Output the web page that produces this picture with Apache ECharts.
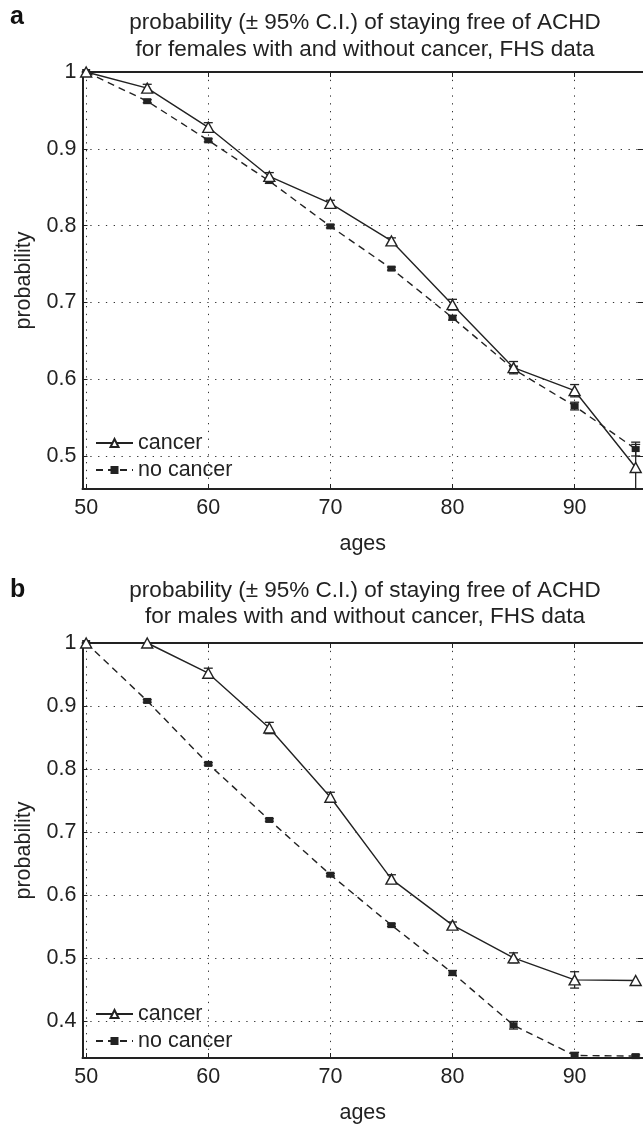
<!DOCTYPE html>
<html>
<head>
<meta charset="utf-8">
<script src="https://cdn.jsdelivr.net/npm/echarts@6/dist/echarts.min.js"></script>
<style>
html,body{margin:0;padding:0;background:#fff;}
#chart{width:643px;height:1125px;}
</style>
</head>
<body>
<div id="chart"></div>
<script>
const ages = [50, 55, 60, 65, 70, 75, 80, 85, 90, 95];
const xTicks = [50, 60, 70, 80, 90];
const yTicksA = [0.5, 0.6, 0.7, 0.8, 0.9, 1];
const yTicksB = [0.4, 0.5, 0.6, 0.7, 0.8, 0.9, 1];

// Panel a: females
const femaleCancer      = [1.0, 0.979, 0.928, 0.864, 0.829, 0.780, 0.697, 0.615, 0.585, 0.485];
const femaleCancerErr   = [0, 0.005, 0.006, 0.005, 0.004, 0.004, 0.007, 0.008, 0.008, 0.030];
const femaleNoCancer    = [1.0, 0.962, 0.911, 0.858, 0.799, 0.744, 0.680, 0.613, 0.565, 0.509];
const femaleNoCancerErr = [0, 0.002, 0.002, 0.003, 0.002, 0.002, 0.003, 0.004, 0.005, 0.009];

// Panel b: males
const maleCancer      = [1.0, 1.0, 0.952, 0.865, 0.755, 0.625, 0.552, 0.500, 0.465, 0.464];
const maleCancerErr   = [0, 0, 0.008, 0.009, 0.008, 0.007, 0.005, 0.008, 0.013, 0];
const maleNoCancer    = [1.0, 0.908, 0.808, 0.719, 0.632, 0.552, 0.476, 0.393, 0.345, 0.344];
const maleNoCancerErr = [0, 0.002, 0.002, 0.002, 0.002, 0.002, 0.004, 0.006, 0.005, 0.002];

const titleA = 'probability (\u00b1 95% C.I.) of staying free of ACHD\nfor females with and without cancer, FHS data';
const titleB = 'probability (\u00b1 95% C.I.) of staying free of ACHD\nfor males with and without cancer, FHS data';

const FONT = '"Liberation Sans", Arial, Helvetica, sans-serif';
const INK = '#222';
const FS = 21.5;

const chart = echarts.init(document.getElementById('chart'), null, {renderer: 'canvas'});

function pairs(xs, ys) { return xs.map((x, i) => [x, ys[i]]); }
function errData(xs, ys, es) {
  const out = [];
  xs.forEach((x, i) => { if (es[i] > 0) out.push([x, ys[i] - es[i], ys[i] + es[i]]); });
  return out;
}
function errRender(params, api) {
  const x = api.value(0), lo = api.value(1), hi = api.value(2);
  const cs = params.coordSys;
  const pTop = api.coord([x, hi]);
  const pBot = api.coord([x, lo]);
  const yMin = cs.y, yMax = cs.y + cs.height;
  const clamp = v => Math.max(yMin, Math.min(yMax, v));
  const t = clamp(pTop[1]), b = clamp(pBot[1]);
  const cx = pTop[0], hw = 4.5;
  const st = {stroke: INK, lineWidth: 1.3};
  const children = [{type: 'line', shape: {x1: cx, y1: t, x2: cx, y2: b}, style: st}];
  if (pTop[1] >= yMin) children.push({type: 'line', shape: {x1: cx - hw, y1: pTop[1], x2: cx + hw, y2: pTop[1]}, style: st});
  if (pBot[1] <= yMax) children.push({type: 'line', shape: {x1: cx - hw, y1: pBot[1], x2: cx + hw, y2: pBot[1]}, style: st});
  return {type: 'group', children};
}

const grids = [
  {left: 82.5, top: 72, width: 562, height: 417},
  {left: 82.5, top: 643, width: 562, height: 415}
];
const yRanges = [[0.457, 1], [0.341, 1]];
const yTickSets = [yTicksA, yTicksB];

const xAxes = [], yAxes = [];
const dotted = {color: '#333', width: 1, type: [1.3, 6.5]};
grids.forEach((g, gi) => {
  xAxes.push({
    type: 'value', gridIndex: gi, position: 'bottom', min: 49.7, max: 95.6,
    name: 'ages', nameLocation: 'middle', nameGap: 44,
    nameTextStyle: {fontFamily: FONT, fontSize: FS, color: INK},
    axisLine: {show: true, lineStyle: {color: INK, width: 2}},
    axisTick: {show: true, inside: true, length: 5, customValues: xTicks, lineStyle: {color: INK}},
    axisLabel: {customValues: xTicks, margin: 8, fontFamily: FONT, fontSize: FS, color: INK},
    splitLine: {show: true, lineStyle: dotted}
  });
  xAxes.push({
    type: 'value', gridIndex: gi, position: 'top', min: 49.7, max: 95.6,
    axisLine: {show: true, lineStyle: {color: INK, width: 2}},
    axisTick: {show: true, inside: true, length: 5, customValues: xTicks, lineStyle: {color: INK}},
    axisLabel: {show: false},
    splitLine: {show: false}
  });
  const yt = yTickSets[gi];
  yAxes.push({
    type: 'value', gridIndex: gi, position: 'left', min: yRanges[gi][0], max: yRanges[gi][1],
    name: 'probability', nameLocation: 'middle', nameGap: 47, nameRotate: 90,
    nameTextStyle: {fontFamily: FONT, fontSize: FS, color: INK},
    axisLine: {show: true, lineStyle: {color: INK, width: 2}},
    axisTick: {show: true, inside: true, length: 5, customValues: yt, lineStyle: {color: INK}},
    axisLabel: {customValues: yt, margin: 6, fontFamily: FONT, fontSize: FS, color: INK,
      formatter: v => (Math.abs(v - 1) < 1e-9 ? '1' : v.toFixed(1))},
    splitLine: {show: true, lineStyle: dotted}
  });
  yAxes.push({
    type: 'value', gridIndex: gi, position: 'right', min: yRanges[gi][0], max: yRanges[gi][1],
    axisLine: {show: false},
    axisTick: {show: true, inside: true, length: 5, customValues: yt, lineStyle: {color: INK}},
    axisLabel: {show: false},
    splitLine: {show: false}
  });
});

function lineSeries(name, data, gi, dashed) {
  return {
    name, type: 'line', xAxisIndex: gi * 2, yAxisIndex: gi * 2,
    data, z: 5,
    symbol: dashed ? 'rect' : 'triangle',
    symbolSize: dashed ? [8, 6] : [11, 10],
    showSymbol: true,
    lineStyle: {color: INK, width: 1.4, type: dashed ? [7, 5] : 'solid'},
    itemStyle: dashed ? {color: INK, borderColor: INK, borderWidth: 0}
                      : {color: '#fff', borderColor: INK, borderWidth: 1.4},
    emphasis: {disabled: true},
    animation: false
  };
}
function errSeries(data, gi) {
  return {
    type: 'custom', xAxisIndex: gi * 2, yAxisIndex: gi * 2,
    data, renderItem: errRender, encode: {x: 0, y: [1, 2]}, z: 4, animation: false, silent: true
  };
}

const series = [
  errSeries(errData(ages, femaleNoCancer, femaleNoCancerErr), 0),
  errSeries(errData(ages, femaleCancer, femaleCancerErr), 0),
  lineSeries('no cancer', pairs(ages, femaleNoCancer), 0, true),
  lineSeries('cancer', pairs(ages, femaleCancer), 0, false),
  errSeries(errData(ages, maleNoCancer, maleNoCancerErr), 1),
  errSeries(errData(ages, maleCancer, maleCancerErr), 1),
  lineSeries('no cancer', pairs(ages, maleNoCancer), 1, true),
  lineSeries('cancer', pairs(ages, maleCancer), 1, false)
];

const legendBase = {
  orient: 'vertical', left: 90, itemWidth: 37, itemHeight: 10, itemGap: 5,
  data: ['cancer', 'no cancer'], selectedMode: false,
  textStyle: {fontFamily: FONT, fontSize: FS, color: INK},
  backgroundColor: 'transparent'
};

chart.setOption({
  animation: false,
  backgroundColor: '#fff',
  grid: grids,
  xAxis: xAxes,
  yAxis: yAxes,
  legend: [
    Object.assign({}, legendBase, {top: 427}),
    Object.assign({}, legendBase, {top: 998})
  ],
  graphic: [
    {type: 'text', x: 10, y: 5, style: {text: 'a', font: 'bold 25px ' + FONT, fill: '#111'}},
    {type: 'text', x: 365, y: 9, style: {text: titleA, font: '22.5px ' + FONT, fill: INK, align: 'center', lineHeight: 27}},
    {type: 'text', x: 10, y: 578, style: {text: 'b', font: 'bold 25px ' + FONT, fill: '#111'}},
    {type: 'text', x: 365, y: 578, style: {text: titleB, font: '22.5px ' + FONT, fill: INK, align: 'center', lineHeight: 26}}
  ],
  series
});
</script>
</body>
</html>
